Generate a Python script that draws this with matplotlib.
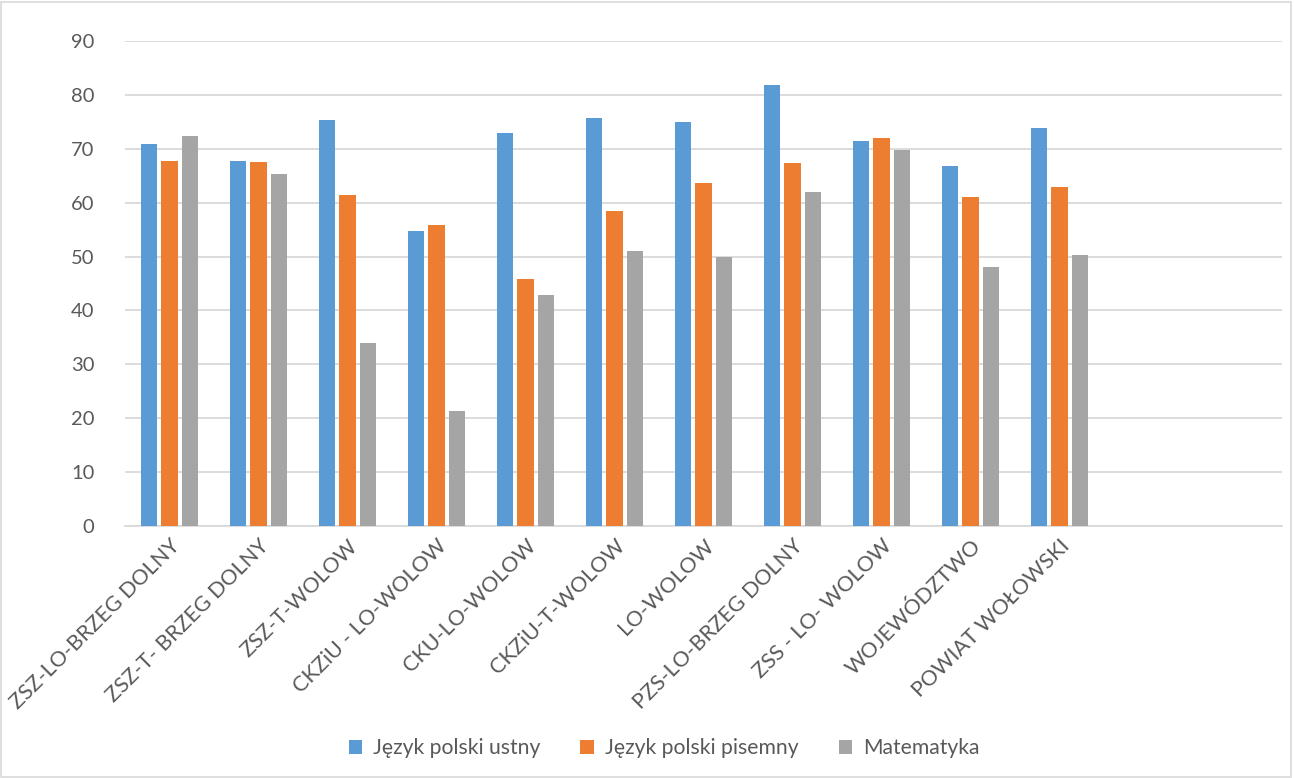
import matplotlib
matplotlib.use("Agg")
import matplotlib.pyplot as plt
import numpy as np
from matplotlib.patches import Rectangle

categories = ["ZSZ-LO-BRZEG DOLNY", "ZSZ-T- BRZEG DOLNY", "ZSZ-T-WOLOW", "CKZiU - LO-WOLOW",
              "CKU-LO-WOLOW", "CKZiU-T-WOLOW", "LO-WOLOW", "PZS-LO-BRZEG DOLNY",
              "ZSS - LO- WOLOW", "WOJEWÓDZTWO", "POWIAT WOŁOWSKI", "", ""]
ustny =    [70.8, 67.8, 75.3, 54.8, 73.0, 75.7, 74.9, 81.9, 71.5, 66.8, 73.8]
pisemny =  [67.8, 67.5, 61.5, 55.9, 45.9, 58.5, 63.7, 67.4, 72.0, 61.1, 63.0]
matma =    [72.3, 65.3, 34.0, 21.3, 42.9, 51.1, 50.0, 61.9, 69.7, 48.1, 50.3]
series_names = ["Język polski ustny", "Język polski pisemny", "Matematyka"]
colors = ["#5B9BD5", "#ED7D31", "#A5A5A5"]
yticks = [0, 10, 20, 30, 40, 50, 60, 70, 80, 90]

plt.rcParams['font.family'] = ['Lato', 'DejaVu Sans']
fig = plt.figure(figsize=(12.94, 7.78), dpi=100)
ax = fig.add_axes([125/1294, 1 - 526/778, (1282-125)/1294, (526-41)/778])

n = len(categories)
x = np.arange(n)
w = 0.18
step = 0.225
for i, (vals, name, c) in enumerate(zip([ustny, pisemny, matma], series_names, colors)):
    xi = np.arange(len(vals)) + (i - 1) * step
    ax.bar(xi, vals, width=w, color=c, label=name, zorder=3)

ax.set_xlim(-0.5, n - 0.5)
ax.set_ylim(0, 90)
ax.set_yticks(yticks)
ax.yaxis.grid(True, color="#D9D9D9", linewidth=1.3, zorder=0)
ax.set_axisbelow(True)
for s in ["top", "right", "left"]:
    ax.spines[s].set_visible(False)
ax.spines["bottom"].set_color("#D9D9D9")
ax.spines["bottom"].set_linewidth(1.3)
ax.tick_params(axis="both", length=0, labelcolor="#595959")
ax.tick_params(axis="y", pad=22, labelsize=14.5)
ax.set_xticks(x)
ax.set_xticklabels(categories, rotation=45, ha="right", va="top", rotation_mode="anchor", fontsize=15.5)
ax.tick_params(axis="x", pad=7)

leg = fig.legend(loc="center", bbox_to_anchor=(664/1294, 1 - 748/778), ncol=3, frameon=False,
                 fontsize=15.2, handlelength=0.65, handleheight=0.65, columnspacing=1.9, handletextpad=0.5)
for t in leg.get_texts():
    t.set_color("#595959")

fig.patches.append(Rectangle((0.001, 0.001), 0.997, 0.997, transform=fig.transFigure,
                             fill=False, edgecolor="#D9D9D9", linewidth=1.2))
fig.savefig("out.png", dpi=100)
